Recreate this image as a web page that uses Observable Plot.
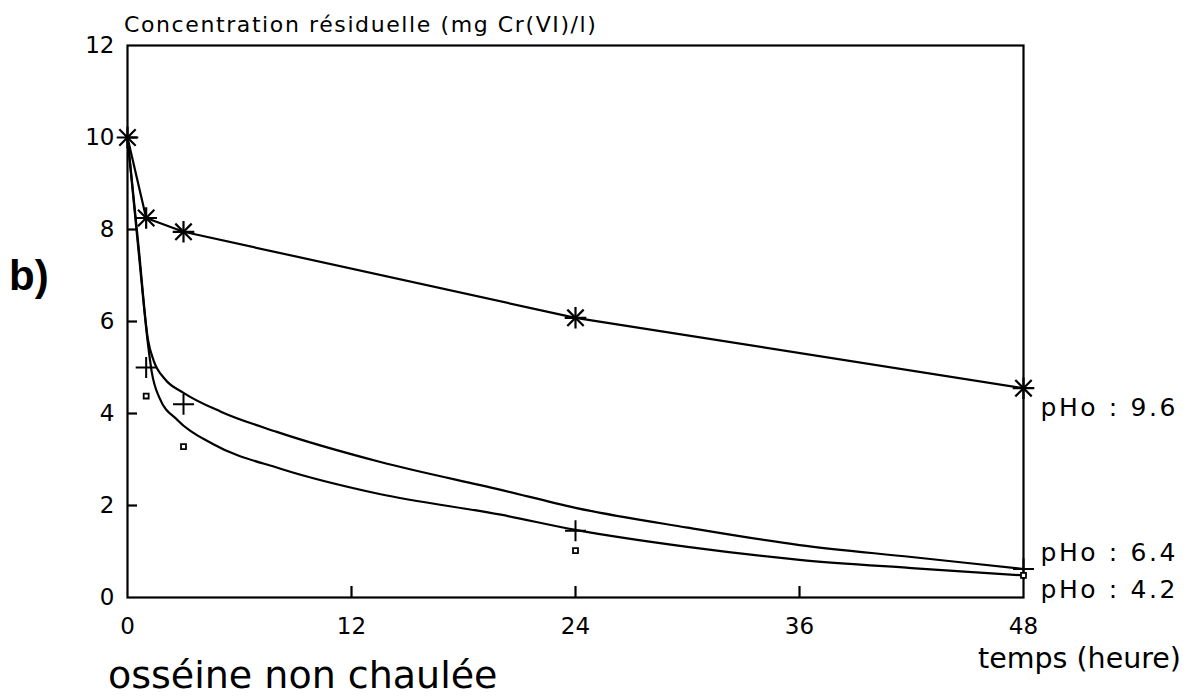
<!DOCTYPE html>
<html>
<head>
<meta charset="utf-8">
<script src="https://cdn.jsdelivr.net/npm/d3@7"></script>
<script src="https://cdn.jsdelivr.net/npm/@observablehq/plot@0.6"></script>
<style>
  body { margin: 0; background: #fff; }
  #chart { width: 1200px; height: 697px; }
</style>
</head>
<body>
<div id="chart"></div>
<script>
// ---- data ----
const xTicks = [0, 12, 24, 36, 48];
const yTicks = [0, 2, 4, 6, 8, 10, 12];

// measured points (temps en heures, concentration mg Cr(VI)/l)
const t96 = [0, 1, 3, 24, 48];
const c96 = [10, 8.25, 7.95, 6.08, 4.55];
const t64 = [1, 3, 24, 48];
const c64 = [5.0, 4.2, 1.45, 0.62];
const t42 = [1, 3, 24, 48];
const c42 = [4.38, 3.28, 1.02, 0.48];

// fitted curves
const fit64T = [0, 0.6, 1.1, 1.4, 2, 3, 5, 8, 13.5, 20, 24, 30, 36, 42, 48];
const fit64C = [10, 7.6, 5.6, 5.15, 4.75, 4.45, 4.04, 3.6, 2.95, 2.34, 1.95, 1.52, 1.14, 0.88, 0.62];
const fit42T = [0, 0.6, 1.1, 1.3, 1.7, 2.7, 4.6, 8.2, 13.5, 20, 24, 30, 36, 42, 48];
const fit42C = [10, 7.5, 5.5, 4.9, 4.35, 3.85, 3.33, 2.8, 2.25, 1.8, 1.47, 1.1, 0.82, 0.64, 0.48];

const seriesLabels = ["pHo : 9.6", "pHo : 6.4", "pHo : 4.2"];
const titleText = "Concentration résiduelle (mg Cr(VI)/l)";
const xLabel = "temps (heure)";
const panelLabel = "b)";
const subLabel = "osséine non chaulée";

// ---- tables ----
const pts96 = t96.map((t, i) => ({t, c: c96[i]}));
const pts64 = t64.map((t, i) => ({t, c: c64[i]}));
const pts42 = t42.map((t, i) => ({t, c: c42[i]}));
const fit64 = fit64T.map((t, i) => ({t, c: fit64C[i]}));
const fit42 = fit42T.map((t, i) => ({t, c: fit42C[i]}));
const innerY = yTicks.slice(1, -1);
const innerX = xTicks.slice(1, -1);

const W = 1200, H = 697;
const mL = 127, mR = 177, mT = 45, mB = 100;
const pw = W - mL - mR, ph = H - mT - mB;
const font = "DejaVu Sans, sans-serif";
const sw = 2.2;

const plot = Plot.plot({
  width: W, height: H,
  marginLeft: mL, marginRight: mR, marginTop: mT, marginBottom: mB,
  style: {fontFamily: font, fontSize: "23px", color: "#000", background: "#fff", overflow: "visible"},
  x: {domain: [0, 48], ticks: xTicks, label: null},
  y: {domain: [0, 12], ticks: yTicks, label: null},
  marks: [
    Plot.frame({stroke: "#000", strokeWidth: sw}),
    Plot.axisY(yTicks, {tickSize: 0, tickPadding: 13, tickFormat: d => String(d), fontSize: 23, label: null}),
    Plot.axisX(xTicks, {tickSize: 0, tickPadding: 20, tickFormat: d => String(d), fontSize: 23, label: null}),
    Plot.tickY(innerY, {stroke: "#000", strokeWidth: sw, insetRight: pw - 10}),
    Plot.tickX(innerX, {stroke: "#000", strokeWidth: sw, insetTop: ph - 11}),
    Plot.line(pts96, {x: "t", y: "c", stroke: "#000", strokeWidth: sw}),
    Plot.line(fit64, {x: "t", y: "c", stroke: "#000", strokeWidth: sw, curve: "monotone-x"}),
    Plot.line(fit42, {x: "t", y: "c", stroke: "#000", strokeWidth: sw, curve: "monotone-x"}),
    Plot.dot(pts96, {x: "t", y: "c", symbol: "times", r: 7.5, stroke: "#000", strokeWidth: 2.2}),
    Plot.dot(pts96, {x: "t", y: "c", symbol: "plus", r: 7, stroke: "#000", strokeWidth: 2.2}),
    Plot.dot(pts64, {x: "t", y: "c", symbol: "plus", r: 6.8, stroke: "#000", strokeWidth: 2}),
    Plot.dot(pts42, {x: "t", y: "c", symbol: "square", r: 2.8, stroke: "#000", fill: "#fff", strokeWidth: 1.8}),
    Plot.text([pts96[pts96.length - 1]], {x: "t", y: "c", text: () => seriesLabels[0], textAnchor: "start", lineAnchor: "bottom", dx: 17, dy: 28, fontSize: 25, fill: "#000"}),
    Plot.text([pts64[pts64.length - 1]], {x: "t", y: "c", text: () => seriesLabels[1], textAnchor: "start", lineAnchor: "bottom", dx: 17, dy: -8, fontSize: 25, fill: "#000"}),
    Plot.text([pts42[pts42.length - 1]], {x: "t", y: "c", text: () => seriesLabels[2], textAnchor: "start", lineAnchor: "bottom", dx: 17, dy: 23, fontSize: 25, fill: "#000"})
  ]
});

const svg = d3.select(plot);
// letter spacing for the pHo labels
svg.selectAll("text").filter(function() { return seriesLabels.includes(this.textContent); })
  .attr("letter-spacing", "2.6px");

// title, axis label, panel label, caption
function addText(str, x, y, size, weight, fam, spacing) {
  svg.append("text")
    .attr("x", x).attr("y", y)
    .attr("text-anchor", "start")
    .attr("font-family", fam || font)
    .attr("font-size", size)
    .attr("font-weight", weight || "normal")
    .attr("letter-spacing", spacing || 0)
    .attr("fill", "#000")
    .text(str);
}
addText(titleText, 124, 32, 22, null, null, "1.6px");
addText(xLabel, 978, 668, 28.5);
addText(panelLabel, 9, 290, 42, "bold", "Liberation Sans, Arial, sans-serif");
addText(subLabel, 108, 688, 38);

document.getElementById("chart").appendChild(plot);
</script>
</body>
</html>
